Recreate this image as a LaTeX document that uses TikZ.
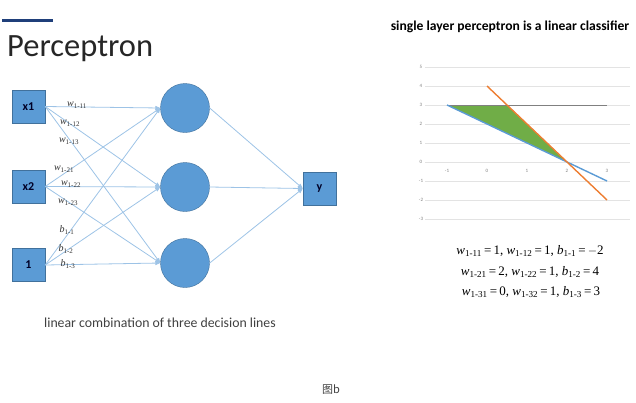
\documentclass[tikz,border=0pt]{standalone}
\usepackage{fontspec}
\setmainfont{Liberation Serif}
\setsansfont{Carlito}
\newfontfamily\cjkf{Noto Sans CJK SC}
\usetikzlibrary{arrows.meta}
\definecolor{boxblue}{HTML}{5B9BD5}
\definecolor{boxedge}{HTML}{41719C}
\definecolor{linkblue}{HTML}{9DC3E6}
\definecolor{barblue}{HTML}{1F3F7A}
\definecolor{textgray}{HTML}{404040}
\definecolor{gridgray}{HTML}{E3E3E3}
\definecolor{plotorange}{HTML}{ED7D31}
\definecolor{plotblue}{HTML}{5B9BD5}
\definecolor{plotgray}{HTML}{808080}
\definecolor{plotgreen}{HTML}{70AD47}
\newcommand\wsub[1]{\textit{w}\textsubscript{1-#1}}
\newcommand\bsub[1]{\textit{b}\textsubscript{1-#1}}
\begin{document}
\begin{tikzpicture}[x=1pt,y=-1pt,
  inbox/.style={draw=boxedge,fill=boxblue,minimum size=33pt,inner sep=0pt,font=\sffamily\bfseries\fontsize{12}{12}\selectfont,text=black!85!blue},
  neuron/.style={circle,draw=boxedge,fill=boxblue,minimum size=49pt,inner sep=0pt},
  link/.style={draw=linkblue,line width=0.8pt,-{Triangle[length=5pt,width=4pt]}},
  wlab/.style={font=\fontsize{10}{10}\selectfont,inner sep=0pt,text=black!80},
  eqn/.style={font=\fontsize{13}{13}\selectfont,inner sep=0pt},
  ticklab/.style={font=\sffamily\fontsize{5}{5}\selectfont,text=gray,inner sep=0pt}]
\useasboundingbox (0,0) rectangle (636,402);
% title
\draw[barblue,line width=3pt] (2,20) -- (53,20);
\node[anchor=base west,inner sep=0pt,font=\sffamily\fontsize{32.5}{33}\selectfont,text=black!85] (title) at (7,56) {Perceptron};
% nodes
\node[inbox] (x1) at (28.5,106.5) {x1};
\node[inbox] (x2) at (28.5,186.5) {x2};
\node[inbox] (one) at (28.5,265) {1};
\node[neuron] (h1) at (185,108) {};
\node[neuron] (h2) at (185,187) {};
\node[neuron] (h3) at (185,263) {};
\node[inbox] (y) at (319.5,188.5) {y};
% links
\foreach \s in {x1,x2,one}{
  \foreach \t in {h1,h2,h3}{
    \draw[link] (\s.east) -- (\t.west);
  }
}
\foreach \t in {h1,h2,h3}{
  \draw[link] (\t.east) -- (y.west);
}
% weight labels
\node[wlab] (w11) at (77,105) {\wsub{11}};
\node[wlab] (w12) at (70,123) {\wsub{12}};
\node[wlab] (w13) at (69,141) {\wsub{13}};
\node[wlab] (w21) at (64,169) {\wsub{21}};
\node[wlab] (w22) at (71,184) {\wsub{22}};
\node[wlab] (w23) at (68,202) {\wsub{23}};
\node[wlab] (b1) at (67,230) {\bsub{1}};
\node[wlab] (b2) at (66,249) {\bsub{2}};
\node[wlab] (b3) at (68,264) {\bsub{3}};
% caption
\node[font=\sffamily\fontsize{13.8}{14}\selectfont,text=textgray,inner sep=0pt] (cap) at (160,323) {linear combination of three decision lines};
\node[font=\cjkf\fontsize{11}{11}\selectfont,text=textgray,inner sep=0pt] (fig) at (331,390) {图b};
% right title
\node[font=\sffamily\bfseries\fontsize{13.6}{14}\selectfont,inner sep=0pt] (rtitle) at (510,27) {single layer perceptron is a linear classifier};
% plot
\begin{scope}[shift={(487,162)},x=40pt,y=19pt]
  \foreach \v in {-3,...,5}{
    \draw[gridgray,line width=0.5pt] (-1.55,\v) -- (3.58,\v);
    \node[ticklab] at (-1.65,\v) {\v};
  }
  \foreach \v in {-1,...,3}{
    \node[ticklab] at (\v,-0.45) {\v};
  }
  \fill[plotgreen] (-1,3) -- (0.5,3) -- (2,0) -- cycle;
  \draw[plotgray,line width=1pt] (-1,3) -- (3,3);
  \draw[plotblue,line width=1.4pt] (-1,3) -- (3,-1);
  \draw[plotorange,line width=1.4pt] (0,4) -- (3,-2);
\end{scope}
% equations
\node[eqn] (e1) at (530,251) {\wsub{11}\,=\,1, \wsub{12}\,=\,1, \bsub{1}\,=\,$-$2};
\node[eqn] (e2) at (530,272) {\wsub{21}\,=\,2, \wsub{22}\,=\,1, \bsub{2}\,=\,4};
\node[eqn] (e3) at (531,292) {\wsub{31}\,=\,0, \wsub{32}\,=\,1, \bsub{3}\,=\,3};
\end{tikzpicture}
\end{document}
